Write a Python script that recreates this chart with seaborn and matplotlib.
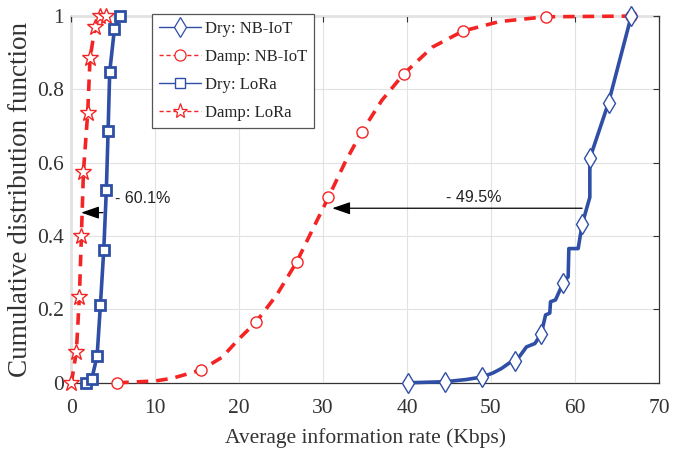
import numpy as np
import matplotlib
matplotlib.use("Agg")
import matplotlib.pyplot as plt
import seaborn as sns
from matplotlib.lines import Line2D

# Dry: NB-IoT (step-like empirical CDF); markers on selected samples
dry_nb_x = [40.1, 44.55, 47.08, 48.98, 50.25, 51.25, 52.24, 52.85, 53.43, 54.23, 55.22,
            55.98, 56.5, 57.0, 57.09, 57.68, 58.6, 59.19, 59.27, 60.38, 60.85, 61.77,
            61.77, 64.0, 66.7]
dry_nb_y = [0.0, 0.003, 0.009, 0.016, 0.027, 0.039, 0.055, 0.06, 0.073, 0.098, 0.107,
            0.133, 0.185, 0.19, 0.221, 0.226, 0.273, 0.289, 0.366, 0.366, 0.432, 0.506,
            0.612, 0.764, 1.0]
dry_nb_marks = [0, 1, 3, 7, 11, 16, 20, 22, 23, 24]

# Damp: NB-IoT
damp_nb_x = [5.5, 10.0, 12.0, 15.5, 18.0, 20.0, 22.0, 24.5, 26.85, 28.8, 30.65, 32.6,
             34.6, 37.0, 39.6, 43.0, 46.65, 51.0, 56.5, 66.7]
damp_nb_y = [0.0, 0.005, 0.012, 0.035, 0.07, 0.12, 0.165, 0.24, 0.329, 0.42, 0.506, 0.6,
             0.684, 0.77, 0.842, 0.915, 0.959, 0.985, 0.998, 1.0]
damp_nb_marks = [0, 3, 6, 8, 10, 12, 14, 16, 18, 19]

# Dry: LoRa
dry_lora_x = [1.75, 2.46, 3.1, 3.49, 3.89, 4.2, 4.41, 4.6, 5.16, 5.88]
dry_lora_y = [0.0, 0.01, 0.073, 0.211, 0.361, 0.526, 0.687, 0.848, 0.964, 1.0]

# Damp: LoRa
damp_lora_x = [0.04, 0.63, 0.99, 1.23, 1.47, 1.98, 2.26, 2.86, 3.45, 4.17]
damp_lora_y = [0.0, 0.085, 0.235, 0.4, 0.574, 0.736, 0.885, 0.971, 1.0, 1.0]

x_ticks = [0, 10, 20, 30, 40, 50, 60, 70]
y_ticks = [0, 0.2, 0.4, 0.6, 0.8, 1]

blue = "#2F4FA6"
red = "#F42424"

sns.set_style("whitegrid")
plt.rcParams["font.family"] = ["Liberation Serif", "DejaVu Serif"]

fig = plt.figure(figsize=(6.9, 4.59), dpi=100)
ax = fig.add_axes([0.103, 0.166, 0.852, 0.799])

sns.lineplot(x=damp_nb_x, y=damp_nb_y, ax=ax, sort=False, estimator=None,
             color=red, lw=2.6, linestyle=(0, (3.2, 2.2)),
             marker="o", markevery=damp_nb_marks, markersize=8,
             markerfacecolor="white", markeredgecolor=red, markeredgewidth=1.0,
             clip_on=False)
sns.lineplot(x=damp_lora_x, y=damp_lora_y, ax=ax, sort=False, estimator=None,
             color=red, lw=2.6, linestyle=(0, (3.2, 2.2)),
             marker="*", markersize=12,
             markerfacecolor="white", markeredgecolor=red, markeredgewidth=1.0,
             clip_on=False)
sns.lineplot(x=dry_nb_x, y=dry_nb_y, ax=ax, sort=False, estimator=None,
             color=blue, lw=2.6, marker="d", markevery=dry_nb_marks, markersize=10,
             markerfacecolor="white", markeredgecolor=blue, markeredgewidth=1.0,
             clip_on=False)
sns.lineplot(x=dry_lora_x, y=dry_lora_y, ax=ax, sort=False, estimator=None,
             color=blue, lw=2.6, marker="s", markersize=7.5,
             markerfacecolor="white", markeredgecolor=blue, markeredgewidth=2.0,
             clip_on=False)

# annotations
arrow = dict(arrowstyle="-|>,head_length=1.1,head_width=0.38",
             color="black", lw=0.9, shrinkA=0, shrinkB=0)
ax.annotate("", xy=(31.1, 0.476), xytext=(60.85, 0.476), arrowprops=arrow)
ax.text(44.6, 0.505, "- 49.5%", fontsize=11.5, family="Liberation Sans",
        ha="left", va="center", color="#222222")
ax.annotate("", xy=(1.2, 0.464), xytext=(3.8, 0.464), arrowprops=arrow)
ax.text(5.2, 0.503, "- 60.1%", fontsize=11.5, family="Liberation Sans",
        ha="left", va="center", color="#222222")

ax.set_xlim(0, 70)
ax.set_ylim(0, 1)
ax.set_xticks(x_ticks)
ax.set_yticks(y_ticks)
ax.set_yticklabels(["0", "0.2", "0.4", "0.6", "0.8", "1"])
ax.grid(True, color="#E2E2E2", lw=0.8)
ax.tick_params(direction="in", length=4, width=0.8, colors="#333333",
               labelsize=15.5, top=True, right=True, pad=5)
ax.tick_params(axis="x", pad=12)
for s in ax.spines.values():
    s.set_color("#333333")
    s.set_linewidth(0.9)
    s.set_zorder(0.5)
ax.set_xlabel("Average information rate (Kbps)", fontsize=15.5, color="#333333", labelpad=7)
ax.set_ylabel("Cumulative distribution function", fontsize=19.5, color="#333333", labelpad=3)

handles = [
    Line2D([], [], color=blue, lw=1.0, marker="d", markersize=10,
           markerfacecolor="white", markeredgecolor=blue, markeredgewidth=0.9),
    Line2D([], [], color=red, lw=1.0, linestyle=(0, (3, 2)), marker="o", markersize=8,
           markerfacecolor="white", markeredgecolor=red, markeredgewidth=0.9),
    Line2D([], [], color=blue, lw=1.0, marker="s", markersize=7,
           markerfacecolor="white", markeredgecolor=blue, markeredgewidth=1.0),
    Line2D([], [], color=red, lw=1.0, linestyle=(0, (3, 2)), marker="*", markersize=11,
           markerfacecolor="white", markeredgecolor=red, markeredgewidth=0.9),
]
labels = ["Dry: NB-IoT", "Damp: NB-IoT", "Dry: LoRa", "Damp: LoRa"]
leg = ax.legend(handles, labels, loc="upper left", bbox_to_anchor=(0.138, 1.005),
                fontsize=12, frameon=True, fancybox=False, framealpha=1,
                edgecolor="#555555", borderpad=0.4, labelspacing=0.72,
                handlelength=2.5, handletextpad=0.25, borderaxespad=0)
leg.get_frame().set_linewidth(0.9)
leg.set_zorder(5)

fig.savefig("out.png", dpi=100)
